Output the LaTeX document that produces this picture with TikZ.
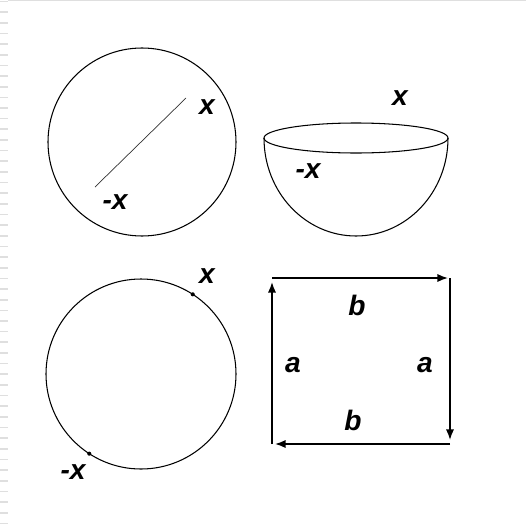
\documentclass[tikz,border=0pt]{standalone}
\usepackage{fontspec}
\setmainfont{Liberation Sans}
\usetikzlibrary{arrows.meta,positioning}

\begin{document}
\begin{tikzpicture}[
    x=0.03cm,y=-0.03cm,
    font=\bfseries\itshape\fontsize{24}{26}\selectfont,
    outline/.style={draw=black,line width=0.9pt},
    diam/.style={draw=black!80,line width=0.6pt},
    tag/.style={inner sep=0pt},
    side/.style={-{Latex[length=9pt,width=7pt]},line width=1.4pt},
    pt/.style={circle,fill=black,inner sep=0pt,minimum size=3.5pt},
    margin/.style={draw=gray!25,line width=1.4pt}
  ]
    \useasboundingbox (0,0) rectangle (526,531);

    % slide margin
    \draw[margin,line width=0.8pt] (8,0.5) -- (526,0.5);
    \foreach \k in {0,...,49}
      \draw[margin] (0,{1.5+10.65*\k}) -- (8,{1.5+10.65*\k});

    % sphere with diameter
    \coordinate (sphere) at (142,142);
    \draw[outline] (sphere) circle[radius=94];
    \coordinate (d1) at (95,187);
    \coordinate (d2) at (186,98);
    \draw[diam] (d1) -- (d2);
    \node[tag] (sx) at (207,107) {x};
    \node[tag] (smx) at (115,202) {-x};

    % hemisphere
    \coordinate (bowl) at (356,138);
    \draw[outline] (bowl) ellipse[x radius=92,y radius=15];
    \draw[outline] ([xshift=-92*0.03cm]bowl) arc[start angle=180,end angle=0,x radius=92,y radius=98];
    \node[tag] (bx) at (400,98) {x};
    \node[tag] (bmx) at (308,171) {-x};

    % circle with antipodal points
    \coordinate (ring) at (141,374);
    \draw[outline] (ring) circle[radius=95];
    \node[pt] (p1) at ([shift={(-57:95)}]ring) {};
    \node[pt] (p2) at ([shift={(123:95)}]ring) {};
    \node[tag] (cx) at (207,276) {x};
    \node[tag] (cmx) at (73,472) {-x};

    % square with identified sides
    \coordinate (nw) at (272,278);
    \coordinate (ne) at (450,278);
    \coordinate (se) at (450,444);
    \coordinate (sw) at (272,444);
    \draw[side] (nw) -- ([xshift=-2*0.03cm]ne);
    \draw[side] (ne) -- ([yshift=4*0.03cm]se);
    \draw[side] (se) -- ([xshift=3*0.03cm]sw);
    \draw[side] (sw) -- ([yshift=-4*0.03cm]nw);
    \node[tag] (tb) at (357,305) {b};
    \node[tag] (la) at (293,365) {a};
    \node[tag] (ra) at (425,365) {a};
    \node[tag] (bb) at (353,420) {b};
  \end{tikzpicture}
\end{document}
